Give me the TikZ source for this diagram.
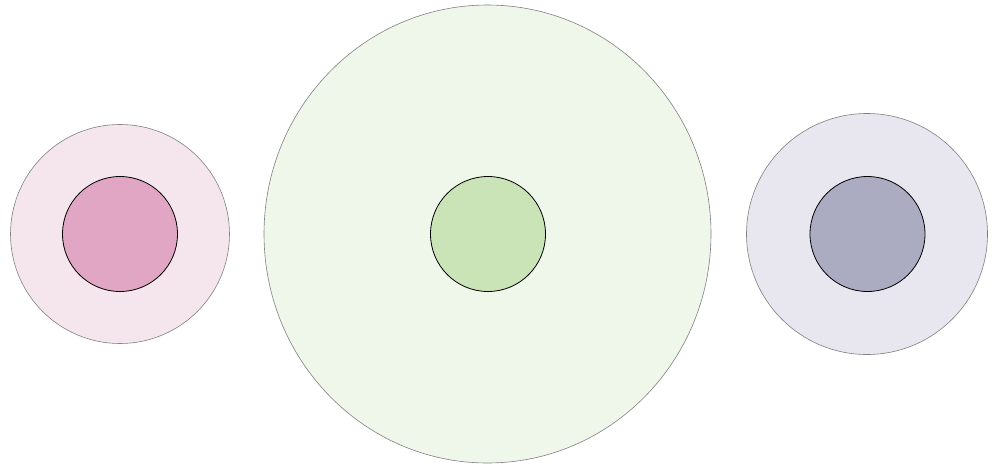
\documentclass[tikz,border=0pt]{standalone}
\definecolor{pinkout}{HTML}{F5E6ED}
\definecolor{pinkin}{HTML}{E0A6C4}
\definecolor{greenout}{HTML}{EFF6EA}
\definecolor{greenin}{HTML}{CAE4B7}
\definecolor{greyout}{HTML}{E8E7EF}
\definecolor{greyin}{HTML}{ABACC1}
\begin{document}
\begin{tikzpicture}[x=1pt,y=-1pt,
  outer/.style={draw=black!50,line width=0.6pt},
  inner/.style={draw=black,line width=0.8pt}]
\useasboundingbox (0,0) rectangle (996,466);
\path[outer,fill=pinkout] (120,234) circle (109.5);
\path[inner,fill=pinkin] (120,234) circle (57.5);
\path[outer,fill=greenout] (487.5,234) ellipse (223.5 and 229);
\path[inner,fill=greenin] (488,234) circle (57.5);
\path[outer,fill=greyout] (867,234) circle (120.5);
\path[inner,fill=greyin] (867.5,234) circle (57.5);
\end{tikzpicture}
\end{document}
